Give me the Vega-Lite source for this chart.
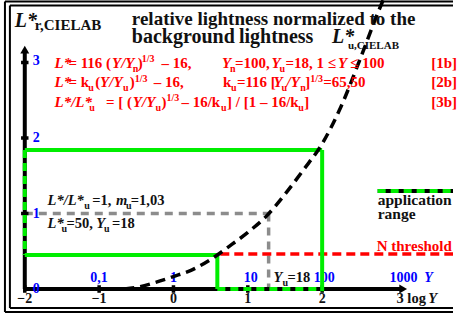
{
  "$schema": "https://vega.github.io/schema/vega-lite/v6.json",
  "width": 457,
  "height": 313,
  "autosize": {"type": "fit", "contains": "padding"},
  "padding": 0,
  "background": "white",
  "config": {"view": {"stroke": null}},
  "datasets": {
    "frame": [
      {"x": -2.2667, "x2": 3.9, "y": 3.808, "y2": 3.808},
      {"x": -2.2667, "x2": -2.2667, "y": 3.808, "y2": -0.3046},
      {"x": -2.2667, "x2": 3.9, "y": -0.3046, "y2": -0.3046},
      {"x": -2.2, "x2": 3.9, "y": 3.755, "y2": 3.755},
      {"x": -2.2, "x2": -2.2, "y": 3.755, "y2": -0.2517},
      {"x": -2.2, "x2": 3.9, "y": -0.2517, "y2": -0.2517}
    ],
    "axes": [
      {"x": -2, "x2": -2, "y": 0, "y2": 3.13},
      {"x": -2, "x2": 3.05, "y": 0, "y2": 0},
      {"x": 2.7467, "x2": 3.9, "y": 1.298, "y2": 1.298}
    ],
    "ticks": [
      {"x": -2, "x2": -2, "y": -0.05, "y2": 0.05},
      {"x": -1, "x2": -1, "y": -0.05, "y2": 0.05},
      {"x": 0, "x2": 0, "y": -0.05, "y2": 0.05},
      {"x": 1, "x2": 1, "y": -0.05, "y2": 0.05},
      {"x": 2, "x2": 2, "y": -0.05, "y2": 0.05},
      {"x": -2.05, "x2": -1.95, "y": 1, "y2": 1},
      {"x": -2.05, "x2": -1.95, "y": 2, "y2": 2},
      {"x": -2.05, "x2": -1.95, "y": 3, "y2": 3}
    ],
    "arrowUp": [{"x": -2, "y": 3.17}],
    "arrowRight": [{"x": 3.09, "y": 0}],
    "green": [
      {"x": -2, "x2": 2, "y": 1.841, "y2": 1.841},
      {"x": 2, "x2": 2, "y": 1.841, "y2": -0.03},
      {"x": -2, "x2": 0.59, "y": 0.45, "y2": 0.45},
      {"x": 0.59, "x2": 0.59, "y": 0.45, "y2": 0}
    ],
    "greenDash": [
      {"x": -2, "x2": -2, "y": 1.841, "y2": 0.45},
      {"x": 0.59, "x2": 2, "y": 0, "y2": 0},
      {"x": 2.7467, "x2": 3.9, "y": 1.298, "y2": 1.298}
    ],
    "gray": [
      {"x": -2, "x2": 1.28, "y": 1, "y2": 1},
      {"x": 1.28, "x2": 1.28, "y": 1, "y2": 0}
    ],
    "redDash": [
      {"x": 0.63, "x2": 3.9, "y": 0.4636, "y2": 0.4636}
    ],
    "curve": [
      {"x": -0.66, "y": 0},
      {"x": -0.5, "y": 0.02},
      {"x": -0.25, "y": 0.085},
      {"x": 0, "y": 0.165},
      {"x": 0.25, "y": 0.254},
      {"x": 0.5, "y": 0.391},
      {"x": 0.75, "y": 0.565},
      {"x": 1.0, "y": 0.75},
      {"x": 1.25, "y": 0.965},
      {"x": 1.5, "y": 1.255},
      {"x": 1.75, "y": 1.58},
      {"x": 2.0, "y": 1.924},
      {"x": 2.25, "y": 2.408},
      {"x": 2.5, "y": 3.018},
      {"x": 2.75, "y": 3.66},
      {"x": 2.83, "y": 3.85}
    ],
    "redReg": [
      {"x": -1.4133, "y": 2.927, "t": "= 116 ("},
      {"x": -0.48, "y": 2.927, "t": ")"},
      {"x": -0.16, "y": 2.927, "t": "– 16,"},
      {"x": 0.8267, "y": 2.927, "t": "=100,"},
      {"x": 1.5067, "y": 2.927, "t": "=18, 1 ≤"},
      {"x": 2.3733, "y": 2.927, "t": "≤ 100"},
      {"x": 3.4667, "y": 2.927, "t": "[1b]"},
      {"x": -1.4133, "y": 2.669, "t": "= k"},
      {"x": -1.0533, "y": 2.669, "t": "("},
      {"x": -0.5867, "y": 2.669, "t": ")"},
      {"x": -0.2667, "y": 2.669, "t": "– 16,"},
      {"x": 0.6667, "y": 2.669, "t": "k"},
      {"x": 0.8533, "y": 2.669, "t": "=116 ["},
      {"x": 1.7733, "y": 2.669, "t": "]"},
      {"x": 2.0133, "y": 2.669, "t": "=65,50"},
      {"x": 3.4667, "y": 2.669, "t": "[2b]"},
      {"x": -0.9067, "y": 2.411, "t": "= [ ("},
      {"x": -0.16, "y": 2.411, "t": ")"},
      {"x": 0.1067, "y": 2.411, "t": "– 16/k"},
      {"x": 0.72, "y": 2.411, "t": "] / [1 – 16/k"},
      {"x": 1.76, "y": 2.411, "t": "]"},
      {"x": 3.4667, "y": 2.411, "t": "[3b]"}
    ],
    "redThr": [
      {"x": 2.7333, "y": 0.503, "t": "N threshold"}
    ],
    "redIt": [
      {"x": -1.6, "y": 2.927, "t": "L*"},
      {"x": -0.8267, "y": 2.927, "t": "Y/Y"},
      {"x": 0.6533, "y": 2.927, "t": "Y"},
      {"x": 1.32, "y": 2.927, "t": "Y"},
      {"x": 2.2133, "y": 2.927, "t": "Y"},
      {"x": -1.6, "y": 2.669, "t": "L*"},
      {"x": -0.9867, "y": 2.669, "t": "Y/Y"},
      {"x": 1.3467, "y": 2.669, "t": "Y"},
      {"x": 1.52, "y": 2.669, "t": "/Y"},
      {"x": -1.6, "y": 2.411, "t": "L*/L*"},
      {"x": -0.5467, "y": 2.411, "t": "Y/Y"}
    ],
    "redSmall": [
      {"x": -0.5467, "y": 2.874, "t": "n"},
      {"x": -0.4267, "y": 3.007, "t": "1/3"},
      {"x": 0.76, "y": 2.874, "t": "n"},
      {"x": 1.4267, "y": 2.874, "t": "u"},
      {"x": -1.1467, "y": 2.616, "t": "u"},
      {"x": -0.68, "y": 2.616, "t": "u"},
      {"x": -0.52, "y": 2.748, "t": "1/3"},
      {"x": 0.7733, "y": 2.616, "t": "u"},
      {"x": 1.4533, "y": 2.616, "t": "u"},
      {"x": 1.7067, "y": 2.616, "t": "n"},
      {"x": 1.84, "y": 2.748, "t": "1/3"},
      {"x": -1.1333, "y": 2.358, "t": "u"},
      {"x": -0.24, "y": 2.358, "t": "u"},
      {"x": -0.0933, "y": 2.49, "t": "1/3"},
      {"x": 0.64, "y": 2.358, "t": "u"},
      {"x": 1.68, "y": 2.358, "t": "u"}
    ],
    "blackReg": [
      {"x": -1.0933, "y": 1.1126, "t": "=1,"},
      {"x": -0.5733, "y": 1.1126, "t": "=1,03"},
      {"x": -1.44, "y": 0.8079, "t": "=50,"},
      {"x": -0.8267, "y": 0.8079, "t": "=18"},
      {"x": 1.5333, "y": 0.0927, "t": "=18"},
      {"x": 3.0, "y": -0.1854, "t": "3 log"}
    ],
    "legendText": [
      {"x": 2.7467, "y": 1.1126, "t": "application"},
      {"x": 2.7467, "y": 0.927, "t": "range"}
    ],
    "blackIt": [
      {"x": -1.6933, "y": 1.1126, "t": "L*/L*"},
      {"x": -0.7733, "y": 1.1126, "t": "m"},
      {"x": -1.6933, "y": 0.8079, "t": "L*"},
      {"x": -1.04, "y": 0.8079, "t": "Y"},
      {"x": 1.3467, "y": 0.0927, "t": "Y"},
      {"x": 3.4267, "y": -0.1854, "t": "Y"}
    ],
    "blackSmall": [
      {"x": -1.2, "y": 1.0596, "t": "u"},
      {"x": -0.64, "y": 1.0596, "t": "u"},
      {"x": -1.5067, "y": 0.755, "t": "u"},
      {"x": -0.9333, "y": 0.755, "t": "u"},
      {"x": 1.4667, "y": 0.0397, "t": "u"}
    ],
    "axisNums": [
      {"x": -2, "y": -0.1854, "t": "−2"},
      {"x": -1, "y": -0.1854, "t": "−1"},
      {"x": 0, "y": -0.1854, "t": "0"},
      {"x": 1, "y": -0.1854, "t": "1"},
      {"x": 2, "y": -0.1854, "t": "2"}
    ],
    "blueLeft": [
      {"x": -1.8933, "y": 2.967, "t": "3"},
      {"x": -1.8933, "y": 1.947, "t": "2"},
      {"x": -1.8933, "y": 0.94, "t": "1"},
      {"x": -1.8933, "y": -0.053, "t": "0"}
    ],
    "blueCenter": [
      {"x": -1, "y": 0.0927, "t": "0,1"},
      {"x": 0, "y": 0.0927, "t": "1"},
      {"x": 1.04, "y": 0.0927, "t": "10"},
      {"x": 2.027, "y": 0.0927, "t": "100"},
      {"x": 3.093, "y": 0.0927, "t": "1000"}
    ],
    "blueIt": [
      {"x": 3.373, "y": 0.0927, "t": "Y"}
    ],
    "titleLine1": [
      {"x": -0.56, "y": 3.497, "t": "relative lightness normalized to the"}
    ],
    "titleLine2": [
      {"x": -0.56, "y": 3.258, "t": "background"},
      {"x": 0.88, "y": 3.258, "t": "lightness"}
    ],
    "titleIt": [
      {"x": 2.1333, "y": 3.258, "t": "L*"}
    ],
    "titleSub": [
      {"x": 2.3467, "y": 3.179, "t": "u,CIELAB"}
    ],
    "yTitle": [
      {"x": -2.1333, "y": 3.47, "t": "L*"}
    ],
    "yTitleSub": [
      {"x": -1.8667, "y": 3.43, "t": "r,CIELAB"}
    ]
  },
  "encoding": {
    "x": {"field": "x", "type": "quantitative", "scale": {"domain": [-2.3333, 3.76], "nice": false, "zero": false}, "axis": null},
    "y": {"field": "y", "type": "quantitative", "scale": {"domain": [-0.31788, 3.82781], "nice": false, "zero": false}, "axis": null}
  },
  "layer": [
    {"data": {"name": "frame"}, "mark": {"type": "rule", "color": "black", "strokeWidth": 2, "clip": true},
     "encoding": {"x2": {"field": "x2"}, "y2": {"field": "y2"}}},
    {"data": {"name": "gray"}, "mark": {"type": "rule", "color": "#8c8c8c", "strokeWidth": 3.5, "strokeDash": [8, 6]},
     "encoding": {"x2": {"field": "x2"}, "y2": {"field": "y2"}}},
    {"data": {"name": "redDash"}, "mark": {"type": "rule", "color": "#ff0000", "strokeWidth": 3.5, "strokeDash": [9, 5], "clip": true},
     "encoding": {"x2": {"field": "x2"}, "y2": {"field": "y2"}}},
    {"data": {"name": "axes"}, "mark": {"type": "rule", "color": "black", "strokeWidth": 4, "clip": true},
     "encoding": {"x2": {"field": "x2"}, "y2": {"field": "y2"}}},
    {"data": {"name": "ticks"}, "mark": {"type": "rule", "color": "black", "strokeWidth": 3.5},
     "encoding": {"x2": {"field": "x2"}, "y2": {"field": "y2"}}},
    {"data": {"name": "arrowUp"}, "mark": {"type": "point", "shape": "triangle-up", "filled": true, "color": "black", "size": 80, "opacity": 1}},
    {"data": {"name": "arrowRight"}, "mark": {"type": "point", "shape": "triangle-right", "filled": true, "color": "black", "size": 80, "opacity": 1}},
    {"data": {"name": "blueLeft"}, "mark": {"type": "text", "align": "left", "baseline": "alphabetic", "font": "Liberation Serif", "fontWeight": "bold", "fontSize": 14, "color": "#0000ff"},
     "encoding": {"text": {"field": "t"}}},
    {"data": {"name": "blueCenter"}, "mark": {"type": "text", "align": "center", "baseline": "alphabetic", "font": "Liberation Serif", "fontWeight": "bold", "fontSize": 14, "color": "#0000ff"},
     "encoding": {"text": {"field": "t"}}},
    {"data": {"name": "blueIt"}, "mark": {"type": "text", "align": "left", "baseline": "alphabetic", "font": "Liberation Serif", "fontWeight": "bold", "fontStyle": "italic", "fontSize": 14, "color": "#0000ff"},
     "encoding": {"text": {"field": "t"}}},
    {"data": {"name": "green"}, "mark": {"type": "rule", "color": "#00ee00", "strokeWidth": 4},
     "encoding": {"x2": {"field": "x2"}, "y2": {"field": "y2"}}},
    {"data": {"name": "greenDash"}, "mark": {"type": "rule", "color": "#00ee00", "strokeWidth": 4, "strokeDash": [8, 5], "clip": true},
     "encoding": {"x2": {"field": "x2"}, "y2": {"field": "y2"}}},
    {"data": {"name": "curve"}, "mark": {"type": "line", "color": "black", "strokeWidth": 3.5, "strokeDash": [10, 6], "clip": true, "interpolate": "monotone"}},
    {"data": {"name": "redReg"}, "mark": {"type": "text", "align": "left", "baseline": "alphabetic", "font": "Liberation Serif", "fontWeight": "bold", "fontSize": 15, "color": "#ff0000"},
     "encoding": {"text": {"field": "t"}}},
    {"data": {"name": "redThr"}, "mark": {"type": "text", "align": "left", "baseline": "alphabetic", "font": "Liberation Serif", "fontWeight": "bold", "fontSize": 15, "color": "#ff0000"},
     "encoding": {"text": {"field": "t"}}},
    {"data": {"name": "redIt"}, "mark": {"type": "text", "align": "left", "baseline": "alphabetic", "font": "Liberation Serif", "fontWeight": "bold", "fontStyle": "italic", "fontSize": 15, "color": "#ff0000"},
     "encoding": {"text": {"field": "t"}}},
    {"data": {"name": "redSmall"}, "mark": {"type": "text", "align": "left", "baseline": "alphabetic", "font": "Liberation Serif", "fontWeight": "bold", "fontSize": 10, "color": "#ff0000"},
     "encoding": {"text": {"field": "t"}}},
    {"data": {"name": "blackReg"}, "mark": {"type": "text", "align": "left", "baseline": "alphabetic", "font": "Liberation Serif", "fontWeight": "bold", "fontSize": 14.5, "color": "#111111"},
     "encoding": {"text": {"field": "t"}}},
    {"data": {"name": "legendText"}, "mark": {"type": "text", "align": "left", "baseline": "alphabetic", "font": "Liberation Serif", "fontWeight": "bold", "fontSize": 15.5, "color": "#111111"},
     "encoding": {"text": {"field": "t"}}},
    {"data": {"name": "blackIt"}, "mark": {"type": "text", "align": "left", "baseline": "alphabetic", "font": "Liberation Serif", "fontWeight": "bold", "fontStyle": "italic", "fontSize": 14.5, "color": "#111111"},
     "encoding": {"text": {"field": "t"}}},
    {"data": {"name": "blackSmall"}, "mark": {"type": "text", "align": "left", "baseline": "alphabetic", "font": "Liberation Serif", "fontWeight": "bold", "fontSize": 10, "color": "#111111"},
     "encoding": {"text": {"field": "t"}}},
    {"data": {"name": "axisNums"}, "mark": {"type": "text", "align": "center", "baseline": "alphabetic", "font": "Liberation Serif", "fontWeight": "bold", "fontSize": 14, "color": "#111111"},
     "encoding": {"text": {"field": "t"}}},
    {"data": {"name": "titleLine1"}, "mark": {"type": "text", "align": "left", "baseline": "alphabetic", "font": "Liberation Serif", "fontWeight": "bold", "fontSize": 19, "color": "#111111"},
     "encoding": {"text": {"field": "t"}}},
    {"data": {"name": "titleLine2"}, "mark": {"type": "text", "align": "left", "baseline": "alphabetic", "font": "Liberation Serif", "fontWeight": "bold", "fontSize": 20, "color": "#111111"},
     "encoding": {"text": {"field": "t"}}},
    {"data": {"name": "titleIt"}, "mark": {"type": "text", "align": "left", "baseline": "alphabetic", "font": "Liberation Serif", "fontWeight": "bold", "fontStyle": "italic", "fontSize": 20, "color": "#111111"},
     "encoding": {"text": {"field": "t"}}},
    {"data": {"name": "titleSub"}, "mark": {"type": "text", "align": "left", "baseline": "alphabetic", "font": "Liberation Serif", "fontWeight": "bold", "fontSize": 11, "color": "#111111"},
     "encoding": {"text": {"field": "t"}}},
    {"data": {"name": "yTitle"}, "mark": {"type": "text", "align": "left", "baseline": "alphabetic", "font": "Liberation Serif", "fontWeight": "bold", "fontStyle": "italic", "fontSize": 20, "color": "#111111"},
     "encoding": {"text": {"field": "t"}}},
    {"data": {"name": "yTitleSub"}, "mark": {"type": "text", "align": "left", "baseline": "alphabetic", "font": "Liberation Serif", "fontWeight": "bold", "fontSize": 15, "color": "#111111"},
     "encoding": {"text": {"field": "t"}}}
  ]
}
